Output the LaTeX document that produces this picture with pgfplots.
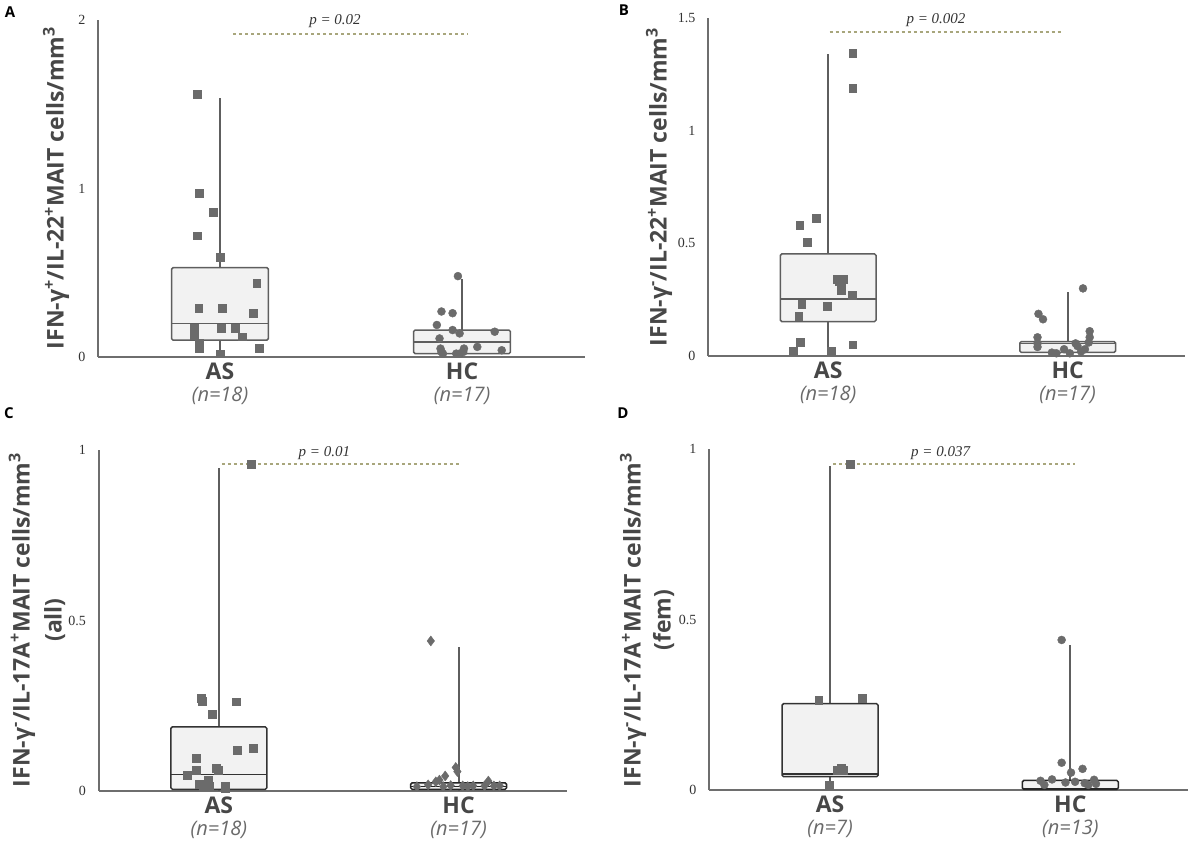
\documentclass[border=0pt]{standalone}
\usepackage{pgfplots}
\pgfplotsset{compat=1.18}
\usepackage{fontspec}
\setmainfont{Open Sans}
\newfontfamily\seriffont{Liberation Serif}
\definecolor{axgray}{HTML}{6E6E6E}
\definecolor{mk}{HTML}{6B6B6B}
\definecolor{boxfill}{HTML}{F2F2F2}
\definecolor{boxdraw}{HTML}{5E5E5E}
\definecolor{pline}{HTML}{A8A67C}
\definecolor{labgray}{HTML}{474747}
\definecolor{ngray}{HTML}{6A6A6A}
\definecolor{tickc}{HTML}{333333}
\newcommand{\cat}[2]{{\bfseries\fontsize{23}{23}\selectfont\color{labgray}#1}\\[-1pt]{\fontsize{20}{20}\selectfont\itshape\color{ngray}#2}}
\newcommand{\pfont}{\seriffont\itshape\fontsize{15}{15}\selectfont}
% #1 colour, #2 left, #3 centre, #4 right, #5 lower whisker, #6 q1, #7 median, #8 q3, #9 upper whisker
\newcommand{\bx}[9]{%
 \addplot[draw=boxdraw, line width=2pt] coordinates {(#3,#5) (#3,#9)};
 \addplot[draw=#1, fill=boxfill, line width=1.5pt, rounded corners=1.5pt] coordinates {(#2,#6) (#4,#6) (#4,#8) (#2,#8)} -- cycle;
 \addplot[draw=#1, line width=1.5pt] coordinates {(#2,#7) (#4,#7)};}
\pgfplotsset{
 panel/.style={
  scale only axis, anchor=south west, clip=false,
  axis lines=left, axis line style={-, draw=axgray, line width=2pt},
  ymin=0,
  xtick={1,2}, major tick length=0pt,
  tick style={draw=none},
  /pgf/number format/assume math mode=true,
  yticklabel style={font=\seriffont\fontsize{14}{14}\selectfont, text=tickc, anchor=east, xshift=-9pt},
  xticklabel style={align=center, anchor=north, yshift=-2pt, font=\fontsize{20}{23}\selectfont},
 },
 as/.style={only marks, mark=square*, mark size=3.9pt, color=mk, mark options={draw=none, fill=mk}},
 hc/.style={only marks, mark=*, mark size=4pt, color=mk, mark options={draw=none, fill=mk}},
 pl/.style={draw=pline, line width=2pt, dash pattern=on 3pt off 3pt},
}
\begin{document}
\begin{tikzpicture}[x=1pt,y=1pt]
\useasboundingbox (0,0) rectangle (1192,841);
% ---------------- A
\begin{axis}[panel, at={(98pt,484pt)}, width=487pt, height=337pt,
  xmin=0.496, xmax=2.508, ymax=2, ytick={0,1,2},
  xticklabels={{\cat{AS}{(n=18)}},{\cat{HC}{(n=17)}}}]
\bx{boxdraw}{0.8}{1}{1.2}{0.02}{0.10}{0.20}{0.53}{1.54}
\bx{boxdraw}{1.8}{2}{2.2}{0.0}{0.02}{0.09}{0.16}{0.46}
\addplot[as] coordinates {(0.906,1.56) (0.914,0.97) (0.971,0.86) (0.906,0.72) (1.0,0.59) (1.152,0.44) (0.912,0.29) (1.01,0.29) (1.138,0.26) (0.895,0.17) (1.004,0.17) (1.062,0.17) (0.893,0.13) (1.091,0.12) (0.914,0.08) (0.914,0.05) (1.161,0.05) (1.0,0.02)};
\addplot[hc] coordinates {(1.983,0.48) (1.915,0.27) (1.961,0.26) (1.896,0.19) (1.961,0.16) (2.135,0.15) (1.99,0.14) (1.907,0.11) (2.063,0.06) (2.008,0.05) (1.911,0.05) (2.164,0.04) (1.915,0.03) (1.976,0.02) (1.99,0.02) (1.921,0.02) (2.005,0.03)};
\addplot[pl] coordinates {(1.054,1.917) (2.025,1.917)};
\node[font=\pfont, text=tickc] at (axis cs:1.475,1.994) {p = 0.02};
\end{axis}
% ---------------- B
\begin{axis}[panel, at={(708pt,485pt)}, width=477pt, height=338pt,
  xmin=0.498, xmax=2.49, ymax=1.5, ytick={0,0.5,1,1.5},
  xticklabels={{\cat{AS}{(n=18)}},{\cat{HC}{(n=17)}}}]
\bx{boxdraw}{0.8}{1}{1.2}{0.012}{0.153}{0.252}{0.453}{1.338}
\bx{boxdraw}{1.8}{2}{2.2}{0.0}{0.016}{0.056}{0.064}{0.283}
\addplot[as] coordinates {(1.102,1.345) (1.102,1.19) (0.951,0.61) (0.881,0.58) (0.913,0.505) (1.038,0.34) (1.062,0.34) (1.054,0.31) (1.054,0.29) (1.099,0.27) (0.889,0.23) (0.995,0.22) (0.877,0.175) (0.884,0.06) (1.102,0.05) (0.855,0.02) (1.011,0.02) (1.046,0.33)};
\addplot[hc] coordinates {(2.064,0.30) (1.878,0.187) (1.897,0.163) (2.092,0.11) (1.874,0.083) (2.092,0.083) (1.874,0.056) (2.088,0.06) (2.041,0.044) (1.985,0.03) (1.874,0.04) (1.934,0.015) (2.056,0.02) (2.072,0.03) (2.033,0.056) (2.009,0.012) (1.953,0.012)};
\addplot[pl] coordinates {(1.006,1.437) (1.98,1.437)};
\node[font=\pfont, text=tickc] at (axis cs:1.45,1.49) {p = 0.002};
\end{axis}
% ---------------- C
\begin{axis}[panel, at={(98.5pt,50pt)}, width=468pt, height=341pt,
  xmin=0.498, xmax=2.45, ymax=1, ytick={0,0.5,1},
  xticklabels={{\cat{AS}{(n=18)}},{\cat{HC}{(n=17)}}}]
\bx{black!80}{0.8}{1}{1.2}{0.0}{0.005}{0.049}{0.188}{0.948}
\bx{black!85}{1.8}{2}{2.2}{0.0}{0.005}{0.013}{0.024}{0.423}
\addplot[as] coordinates {(1.134,0.959) (0.925,0.272) (0.93,0.264) (1.071,0.262) (0.972,0.226) (1.142,0.125) (1.078,0.12) (0.907,0.096) (0.907,0.06) (0.996,0.062) (0.868,0.047) (0.957,0.032) (0.918,0.02) (0.962,0.015) (1.027,0.015) (0.988,0.066) (0.933,0.013) (1.027,0.008)};
\addplot[only marks, mark=diamond*, mark size=5pt, color=mk, mark options={draw=none, fill=mk}] coordinates {(1.884,0.44) (1.988,0.069) (1.995,0.057) (1.944,0.044) (1.92,0.032) (1.905,0.027) (2.124,0.029) (1.873,0.018) (1.967,0.016) (2.017,0.015) (2.061,0.015) (2.108,0.015) (2.147,0.015) (1.826,0.013) (1.936,0.013) (2.038,0.013) (2.171,0.015)};
\addplot[pl] coordinates {(1.0125,0.959) (2.0125,0.959)};
\node[font=\pfont, text=tickc] at (axis cs:1.44,0.991) {p = 0.01};
\end{axis}
% ---------------- D
\begin{axis}[panel, at={(709pt,51pt)}, width=479pt, height=341pt,
  xmin=0.496, xmax=2.49, ymax=1, ytick={0,0.5,1},
  xticklabels={{\cat{AS}{(n=7)}},{\cat{HC}{(n=13)}}}]
\bx{black!80}{0.8}{1}{1.2}{0.015}{0.039}{0.047}{0.253}{0.949}
\bx{black!85}{1.8}{2}{2.2}{0.0}{0.002}{0.005}{0.028}{0.424}
\addplot[as] coordinates {(1.083,0.956) (0.953,0.264) (1.133,0.27) (1.046,0.064) (1.03,0.059) (1.054,0.057) (0.998,0.015)};
\addplot[hc] coordinates {(1.964,0.44) (1.964,0.08) (2.051,0.062) (2.003,0.051) (1.876,0.027) (1.924,0.031) (1.98,0.022) (2.02,0.024) (2.06,0.02) (2.099,0.03) (2.107,0.018) (1.892,0.015) (2.075,0.015)};
\addplot[pl] coordinates {(1.0125,0.956) (2.02,0.956)};
\node[font=\pfont, text=tickc] at (axis cs:1.46,0.988) {p = 0.037};
\end{axis}
% ---------------- labels
\node[rotate=90, font=\bfseries\fontsize{23}{23}\selectfont, text=labgray] at (56,653) {IFN-γ\textsuperscript{+}/IL-22\textsuperscript{+}MAIT cells/mm\textsuperscript{3}};
\node[rotate=90, font=\bfseries\fontsize{23}{23}\selectfont, text=labgray] at (659,654) {IFN-γ\textsuperscript{-}/IL-22\textsuperscript{+}MAIT cells/mm\textsuperscript{3}};
\node[rotate=90, align=center, font=\bfseries\fontsize{23}{32}\selectfont, text=labgray] at (37,221) {IFN-γ\textsuperscript{-}/IL-17A\textsuperscript{+}MAIT cells/mm\textsuperscript{3}\\(all)};
\node[rotate=90, align=center, font=\bfseries\fontsize{23}{30}\selectfont, text=labgray] at (647,221) {IFN-γ\textsuperscript{-}/IL-17A\textsuperscript{+}MAIT cells/mm\textsuperscript{3}\\(fem)};
\node[font=\bfseries\fontsize{15}{15}\selectfont] at (10,829) {A};
\node[font=\bfseries\fontsize{15}{15}\selectfont] at (624,831) {B};
\node[font=\bfseries\fontsize{15}{15}\selectfont] at (9,428) {C};
\node[font=\bfseries\fontsize{15}{15}\selectfont] at (623,428) {D};
\end{tikzpicture}
\end{document}
